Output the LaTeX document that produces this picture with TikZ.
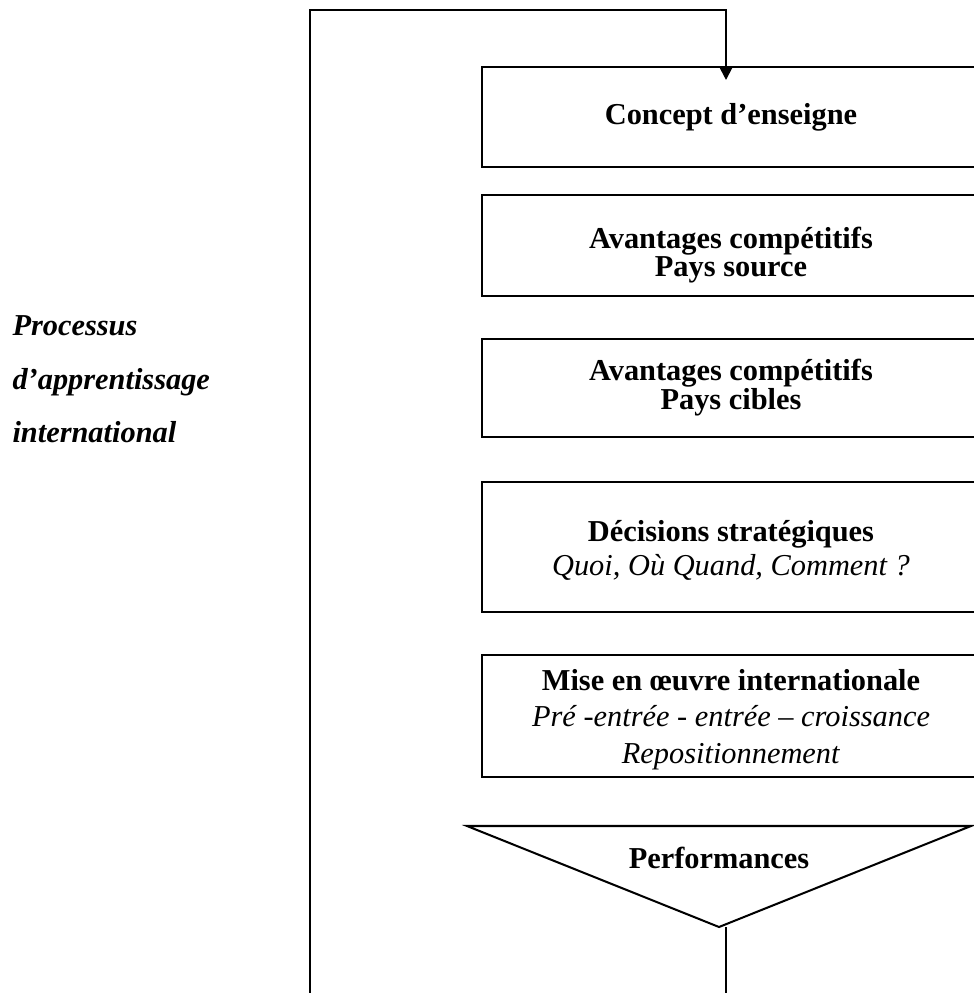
\documentclass[tikz,border=0pt]{standalone}
\usepackage{fontspec}
\setmainfont{Liberation Serif}
\usepackage{tikz}
\usetikzlibrary{arrows.meta,positioning}
\newdimen\px
\px=0.395pt

\begin{document}
\begin{tikzpicture}[x=0.395pt, y=-0.395pt, >={Triangle[length=5pt,width=5pt]},
	stage/.style={draw, line width=0.8pt, rectangle, minimum width=498\px, inner sep=0pt, outer sep=0pt},
	caption/.style={draw=none, align=center, anchor=base, inner sep=0pt},
	sidelabel/.style={draw=none, align=left, anchor=base west, inner sep=0pt, font=\fontsize{12}{21.3}\selectfont\bfseries\itshape},
	loopLine/.style={line width=0.75pt, color=black}	%		,show background rectangle
	]
	\useasboundingbox (0,0) rectangle (973,993);

	\node[stage, minimum height=100\px] (concept) at (731,117) {};
	\node[caption, font=\fontsize{12}{14}\selectfont\bfseries] (concepttext) at ([yshift=-58\px]concept.north) {Concept d’enseigne};

	\node[stage, minimum height=101\px, below = 11.06pt of concept] (source) {};
	\node[caption, font=\fontsize{12}{11.06}\selectfont\bfseries] (sourcetext) at ([yshift=-82\px]source.north) {Avantages compétitifs\\Pays source};

	\node[stage, minimum height=98\px, below = 17pt of source] (cibles) {};
	\node[caption, font=\fontsize{12}{11.46}\selectfont\bfseries] (ciblestext) at ([yshift=-70\px]cibles.north) {Avantages compétitifs\\Pays cibles};

	\node[stage, minimum height=130\px, below = 17.8pt of cibles] (decisions) {};
	\node[caption, font=\fontsize{12}{13.4}\selectfont] (decisionstext) at ([yshift=-93\px]decisions.north) {\textbf{Décisions stratégiques}\\\textit{Quoi, Où Quand, Comment ?}};

	\node[stage, minimum height=122\px, below = 17pt of decisions] (mise) {};
	\node[caption, font=\fontsize{12}{14.4}\selectfont] (misetext) at ([yshift=-108\px]mise.north) {\textbf{Mise en œuvre internationale}\\\textit{Pré -entrée - entrée – croissance}\\\textit{Repositionnement}};

	\coordinate (perfleft) at (467,826);
	\coordinate (perfright) at (971,826);
	\coordinate (perfapex) at (719,927);
	\draw[line width=0.8pt] (perfleft) -- (perfright) -- (perfapex) -- cycle;
	\node[caption, font=\fontsize{12}{14}\selectfont\bfseries] (perf) at (719,868) {Performances};

	\coordinate (loopcorner) at (310,1010);
	\coordinate (looptop) at (310,10);
	\draw[loopLine, ->] ([xshift=7\px]perfapex) |- (loopcorner) -- (looptop) -| ([xshift=-5\px,yshift=-13\px]concept.north);

	\node[sidelabel] (process) at (12,443) {Processus\\d’apprentissage\\international};
\end{tikzpicture}
\end{document}
